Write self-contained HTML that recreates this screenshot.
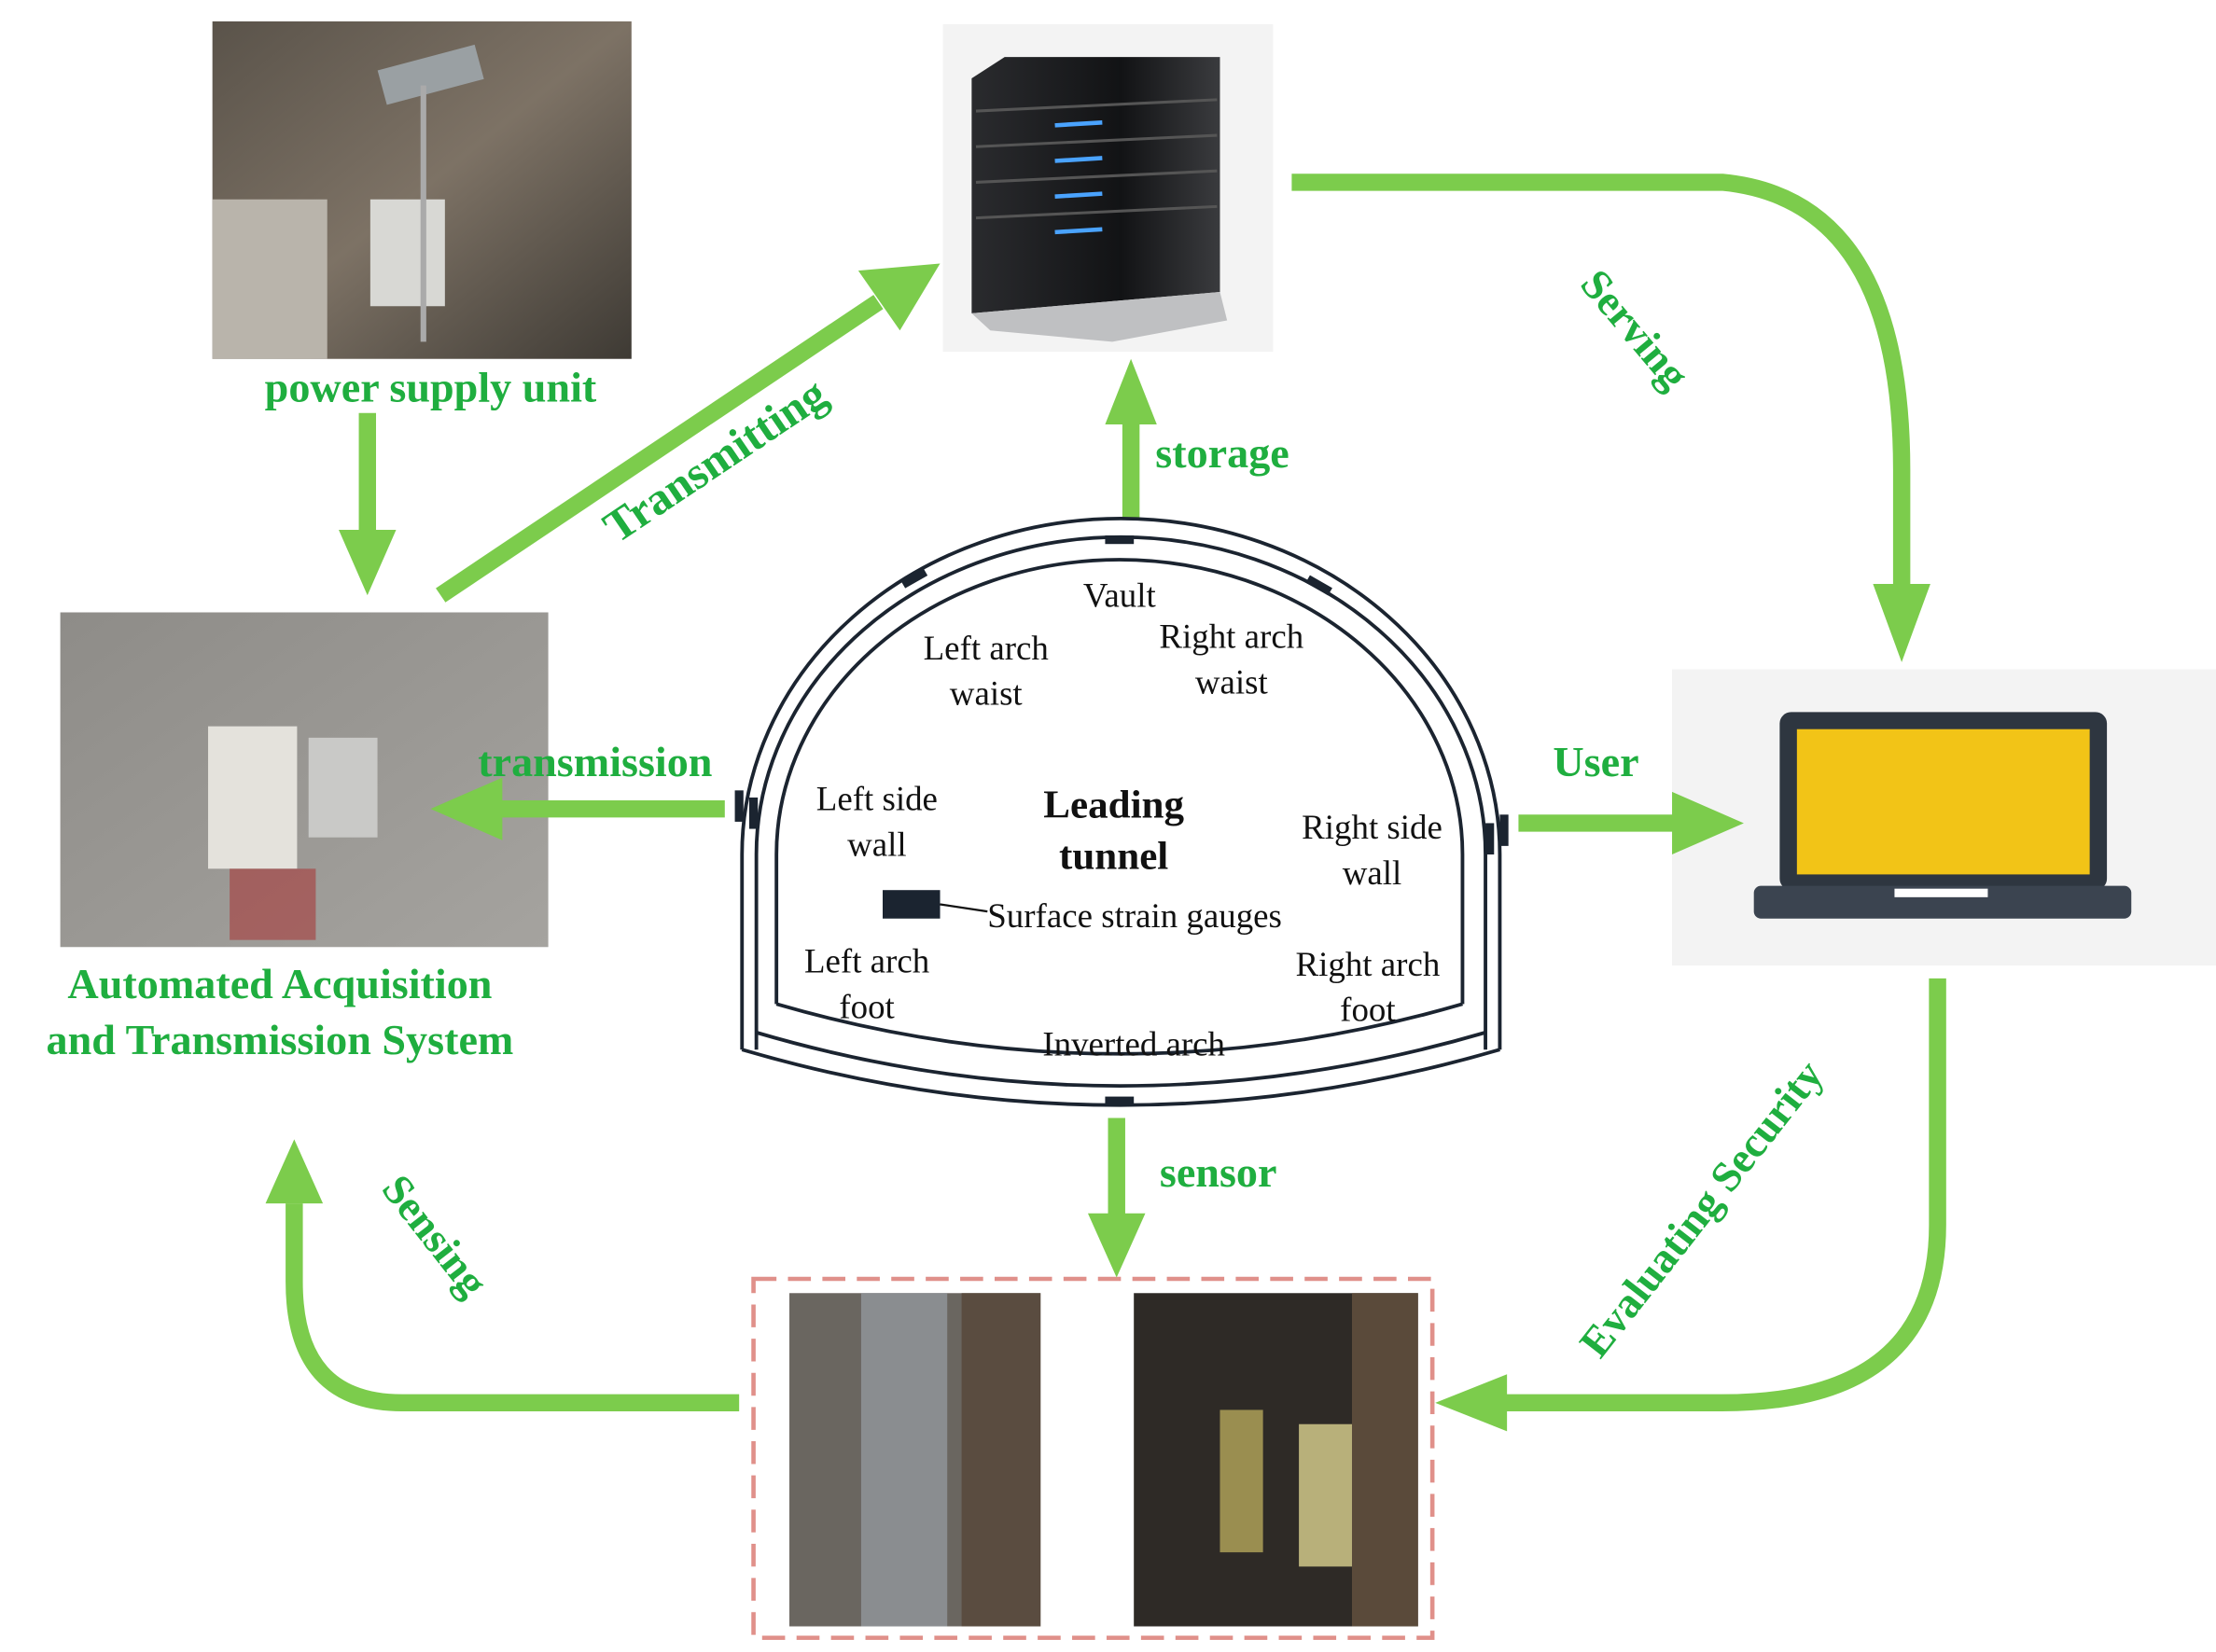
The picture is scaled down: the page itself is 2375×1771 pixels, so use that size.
<!DOCTYPE html>
<html><head><meta charset="utf-8"><style>
html,body{margin:0;padding:0;background:#fff}
svg{display:block}
.g{fill:#1fae3f;font-family:"Liberation Serif",serif;font-weight:bold}
.t{fill:#111;font-family:"Liberation Serif",serif}
</style></head><body>
<svg width="2375" height="1771" viewBox="0 0 1544 1160" preserveAspectRatio="none" xmlns="http://www.w3.org/2000/svg">
<defs>
<linearGradient id="rock" x1="0" y1="0" x2="1" y2="1"><stop offset="0" stop-color="#5a534a"/><stop offset=".5" stop-color="#7d7265"/><stop offset="1" stop-color="#3e3a34"/></linearGradient>
<linearGradient id="conc" x1="0" y1="0" x2="1" y2="1"><stop offset="0" stop-color="#8e8c88"/><stop offset="1" stop-color="#a5a39f"/></linearGradient>
<linearGradient id="srv" x1="0" y1="0" x2="1" y2="0"><stop offset="0" stop-color="#2a2b2e"/><stop offset=".6" stop-color="#121315"/><stop offset="1" stop-color="#3a3b3e"/></linearGradient>
</defs>
<!-- power supply photo -->
<rect x="148" y="15" width="292" height="237" fill="url(#rock)"/>
<rect x="148" y="140" width="80" height="112" fill="#b9b4ab"/>
<rect x="258" y="140" width="52" height="75" fill="#d8d8d4"/>
<rect x="265" y="40" width="70" height="25" fill="#9aa0a3" transform="rotate(-15 300 52)"/>
<line x1="295" y1="60" x2="295" y2="240" stroke="#aaa" stroke-width="4"/>
<text class="g" x="300" y="282" font-size="30" text-anchor="middle">power supply unit</text>
<!-- down arrow -->
<line x1="256" y1="290" x2="256" y2="375" stroke="#7ccc4c" stroke-width="12"/>
<polygon points="236,372 276,372 256,418" fill="#7ccc4c"/>
<!-- acquisition photo -->
<rect x="42" y="430" width="340" height="235" fill="url(#conc)"/>
<rect x="145" y="510" width="62" height="100" fill="#e4e2dc"/>
<rect x="215" y="518" width="48" height="70" fill="#c9c9c7"/>
<rect x="160" y="610" width="60" height="50" fill="#a63a3a" opacity=".6"/>
<text class="g" x="195" y="701" font-size="30" text-anchor="middle">Automated Acquisition</text>
<text class="g" x="195" y="740" font-size="30" text-anchor="middle">and Transmission System</text>
<!-- Transmitting arrow -->
<line x1="307" y1="418" x2="612" y2="212" stroke="#7ccc4c" stroke-width="12"/>
<polygon points="598,190 627,232 655,185" fill="#7ccc4c"/>
<text class="g" x="0" y="0" font-size="32" transform="translate(430,382) rotate(-34)">Transmitting</text>
<!-- server -->
<rect x="657" y="17" width="230" height="230" fill="#f3f3f3"/>
<polygon points="677,55 700,40 850,40 850,205 677,220" fill="url(#srv)"/>
<polygon points="677,220 850,205 855,225 775,240 690,232" fill="#bfc0c2"/>
<g stroke="#555" stroke-width="2"><line x1="680" y1="78" x2="848" y2="70"/><line x1="680" y1="103" x2="848" y2="95"/><line x1="680" y1="128" x2="848" y2="120"/><line x1="680" y1="153" x2="848" y2="145"/></g>
<g stroke="#4aa3ff" stroke-width="3"><line x1="735" y1="88" x2="768" y2="86"/><line x1="735" y1="113" x2="768" y2="111"/><line x1="735" y1="138" x2="768" y2="136"/><line x1="735" y1="163" x2="768" y2="161"/></g>
<!-- storage -->
<line x1="788" y1="365" x2="788" y2="295" stroke="#7ccc4c" stroke-width="12"/>
<polygon points="770,298 806,298 788,252" fill="#7ccc4c"/>
<text class="g" x="805" y="328" font-size="30">storage</text>
<!-- serving -->
<path d="M900,128 L1200,128 Q1325,140 1325,330 L1325,410" fill="none" stroke="#7ccc4c" stroke-width="12"/>
<polygon points="1305,410 1345,410 1325,465" fill="#7ccc4c"/>
<text class="g" x="0" y="0" font-size="30" transform="translate(1100,200) rotate(50)">Serving</text>
<!-- laptop -->
<rect x="1165" y="470" width="379" height="208" fill="#f3f3f3"/>
<rect x="1240" y="500" width="228" height="125" rx="8" fill="#2e3640"/>
<rect x="1252" y="512" width="204" height="102" fill="#f2c417"/>
<rect x="1222" y="622" width="263" height="23" rx="5" fill="#3b4450"/>
<rect x="1320" y="624" width="65" height="6" fill="#fff"/>
<!-- user -->
<line x1="1058" y1="578" x2="1170" y2="578" stroke="#7ccc4c" stroke-width="12"/>
<polygon points="1165,556 1165,600 1215,578" fill="#7ccc4c"/>
<text class="g" x="1082" y="545" font-size="30">User</text>
<!-- evaluating -->
<path d="M1350,687 L1350,860 Q1350,985 1200,985 L1045,985" fill="none" stroke="#7ccc4c" stroke-width="12"/>
<polygon points="1050,965 1050,1005 1000,985" fill="#7ccc4c"/>
<text class="g" x="0" y="0" font-size="30" transform="translate(1115,955) rotate(-52)">Evaluating Security</text>
<!-- sensor photos -->
<rect x="525" y="898" width="473" height="252" fill="none" stroke="#e0908a" stroke-width="3" stroke-dasharray="16,8"/>
<rect x="550" y="908" width="175" height="234" fill="#6a6660"/>
<rect x="600" y="908" width="60" height="234" fill="#8a8d90"/>
<rect x="670" y="908" width="55" height="234" fill="#5a4c40"/>
<rect x="790" y="908" width="198" height="234" fill="#2e2a26"/>
<rect x="850" y="990" width="30" height="100" fill="#9a8e50"/>
<rect x="905" y="1000" width="38" height="100" fill="#b8b07a"/>
<rect x="942" y="908" width="46" height="234" fill="#5a4a3a"/>
<!-- sensor arrow -->
<line x1="778" y1="785" x2="778" y2="855" stroke="#7ccc4c" stroke-width="12"/>
<polygon points="758,852 798,852 778,897" fill="#7ccc4c"/>
<text class="g" x="808" y="833" font-size="30">sensor</text>
<!-- sensing -->
<path d="M515,985 L280,985 Q205,985 205,900 L205,845" fill="none" stroke="#7ccc4c" stroke-width="12"/>
<polygon points="185,845 225,845 205,800" fill="#7ccc4c"/>
<text class="g" x="0" y="0" font-size="30" transform="translate(265,835) rotate(52)">Sensing</text>
<!-- transmission -->
<line x1="505" y1="568" x2="345" y2="568" stroke="#7ccc4c" stroke-width="12"/>
<polygon points="350,546 350,590 300,568" fill="#7ccc4c"/>
<text class="g" x="333" y="545" font-size="30">transmission</text>
<!-- tunnel -->
<g fill="none" stroke="#1b2430" stroke-width="2.5">
<path d="M517,737 L517,600 A263,235 0 0 1 1045,600 L1045,737"/>
<path d="M527,737 L527,600 A253,222 0 0 1 1035,600 L1035,737"/>
<path d="M541,705 L541,600 A239,207 0 0 1 1019,600 L1019,705"/>
<path d="M517,737 Q780,815 1045,737"/>
<path d="M527,725 Q780,800 1035,725"/>
<path d="M541,705 Q780,775 1019,705"/>
</g>
<g fill="#1b2430">
<rect x="770" y="376" width="20" height="6"/><rect x="770" y="770" width="20" height="6"/>
<rect x="512" y="555" width="6" height="22"/><rect x="522" y="560" width="6" height="22"/>
<rect x="1045" y="572" width="6" height="22"/><rect x="1035" y="578" width="6" height="22"/>
<rect x="628" y="403" width="18" height="6" transform="rotate(-30 637 406)"/>
<rect x="910" y="408" width="18" height="6" transform="rotate(30 919 411)"/>
<rect x="615" y="625" width="40" height="20"/>
</g>
<line x1="655" y1="635" x2="688" y2="640" stroke="#111" stroke-width="1.5"/>
<g class="t" font-size="24">
<text x="780" y="426" text-anchor="middle">Vault</text>
<text x="687" y="463" text-anchor="middle">Left arch</text><text x="687" y="495" text-anchor="middle">waist</text>
<text x="858" y="455" text-anchor="middle">Right arch</text><text x="858" y="487" text-anchor="middle">waist</text>
<text x="611" y="569" text-anchor="middle">Left side</text><text x="611" y="601" text-anchor="middle">wall</text>
<text x="956" y="589" text-anchor="middle">Right side</text><text x="956" y="621" text-anchor="middle">wall</text>
<text x="688" y="651">Surface strain gauges</text>
<text x="604" y="683" text-anchor="middle">Left arch</text><text x="604" y="715" text-anchor="middle">foot</text>
<text x="953" y="685" text-anchor="middle">Right arch</text><text x="953" y="717" text-anchor="middle">foot</text>
<text x="790" y="741" text-anchor="middle">Inverted arch</text>
</g>
<text class="t" x="776" y="574" font-size="28" font-weight="bold" text-anchor="middle">Leading</text>
<text class="t" x="776" y="610" font-size="28" font-weight="bold" text-anchor="middle">tunnel</text>
</svg>
</body></html>
